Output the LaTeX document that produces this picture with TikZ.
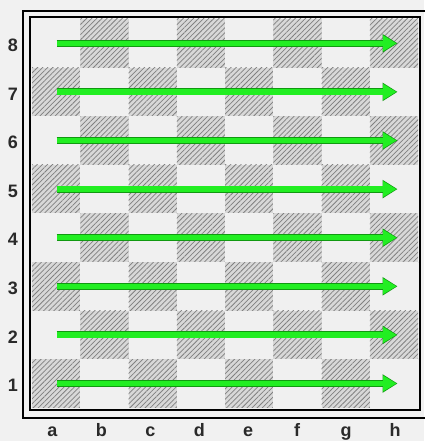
\documentclass[tikz,border=0pt]{standalone}
\usepackage{fontspec}
\setmainfont{Liberation Sans}
\usetikzlibrary{arrows.meta,patterns.meta}
\definecolor{bgc}{HTML}{F1F1F1}
\definecolor{lightsq}{HTML}{F0F0F0}
\definecolor{darksq}{HTML}{D8D8D8}
\definecolor{hatch}{HTML}{808080}
\definecolor{arrowg}{HTML}{22EE22}
\definecolor{arrowd}{HTML}{119911}
\definecolor{labc}{HTML}{2A2A2A}
\begin{document}
\begin{tikzpicture}[x=1pt,y=-1pt,
  frame/.style={draw=black,line width=1.8pt},
  darkbox/.style={pattern={Lines[angle=45,distance=3.6pt,line width=0.75pt]},pattern color=hatch},
  lightbox/.style={fill=lightsq},
  lab/.style={text=labc,font=\bfseries\fontsize{18}{18}\selectfont,inner sep=0pt},
  flab/.style={text=labc,font=\bfseries\fontsize{18}{18}\selectfont,inner sep=0pt},
  arrowout/.style={draw=arrowd,line width=7pt,-{Triangle[length=15pt,width=17.5pt]}},
  arrowin/.style={draw=arrowg,line width=5.4pt,-{Triangle[length=13.5pt,width=15pt]}, shorten >=1pt}]
\useasboundingbox (0,0) rectangle (424,441);
\fill[bgc] (0,0) rectangle (424,441);
\def\xo{32}\def\yo{19}\def\sx{48.25}\def\sy{48.6}
% squares
\foreach \i in {0,...,7}{
  \foreach \j in {0,...,7}{
    \pgfmathtruncatemacro{\rk}{8-\j}
    \pgfmathtruncatemacro{\parity}{mod(\i+\rk,2)}
    \pgfmathsetmacro{\xa}{\xo+\i*\sx}
    \pgfmathsetmacro{\ya}{\yo+\j*\sy}
    \ifnum\parity=1
      \fill[darksq] (\xa,\ya) rectangle ++(\sx,\sy);
      \fill[darkbox] (\xa,\ya) rectangle ++(\sx,\sy);
    \else
      \fill[lightbox] (\xa,\ya) rectangle ++(\sx,\sy);
    \fi
  }
}
% frames
\draw[frame] (30,17) rectangle (420,410);
\draw[frame] (23,11) rectangle (427,418);
% arrows
\foreach \j in {0,...,7}{
  \pgfmathtruncatemacro{\rk}{8-\j}
  \pgfmathsetmacro{\yc}{\yo+(\j+0.5)*\sy}
  \coordinate (s\rk) at (56.5,\yc);
  \coordinate (e\rk) at (397.5,\yc);
  \draw[arrowout] (s\rk) -- (e\rk);
  \draw[arrowin] ([xshift=0.8pt]s\rk) -- (e\rk);
  \node[lab] (r\rk) at (13,\yc+2) {\rk};
}
% file labels
\foreach \f [count=\i from 0] in {a,b,c,d,e,f,g,h}{
  \node[flab,anchor=base] (f\f) at ({52.5+\i*48.93},436.5) {\f};
}
\end{tikzpicture}
\end{document}
